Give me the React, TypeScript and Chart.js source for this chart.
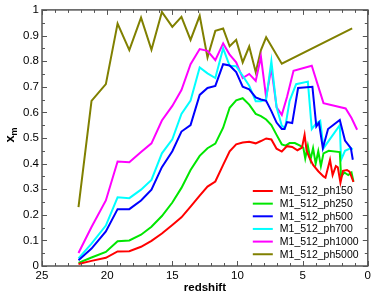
import React, { useEffect, useRef } from "react";
import { Chart, registerables } from "chart.js";

Chart.register(...registerables);

// Redshift snapshots shared by all runs (high z part)
const zEarly = [22.2, 21.2, 20.1, 19.2, 18.3, 17.4, 16.6, 15.8, 15.0, 14.3, 13.6, 12.9, 12.3, 11.7, 11.1, 10.6, 10.1, 9.6, 9.1, 8.6, 8.2, 7.8, 7.4, 7.0, 6.6];

const z150 = [...zEarly, 6.2, 5.8, 5.4, 5.05, 4.85, 4.7, 4.5, 4.2, 3.8, 3.4, 3.25, 2.9, 2.7, 2.45, 2.3, 2.1, 1.9, 1.6, 1.4, 1.1];
const v150 = [0.008, 0.02, 0.032, 0.057, 0.058, 0.075, 0.098, 0.127, 0.16, 0.19, 0.232, 0.275, 0.31, 0.33, 0.395, 0.448, 0.475, 0.482, 0.485, 0.479, 0.488, 0.498, 0.494, 0.458, 0.447, 0.468, 0.465, 0.452, 0.462, 0.512, 0.452, 0.425, 0.395, 0.37, 0.35, 0.345, 0.415, 0.355, 0.39, 0.385, 0.325, 0.372, 0.375, 0.368, 0.328];

const z250 = [...zEarly, 6.3, 6.0, 5.6, 5.2, 4.95, 4.8, 4.6, 4.4, 4.2, 4.0, 3.8, 3.6, 3.4, 3.0, 2.15, 2.05, 1.8, 1.5, 1.25, 1.1];
const v250 = [0.012, 0.033, 0.055, 0.097, 0.1, 0.122, 0.153, 0.195, 0.248, 0.305, 0.375, 0.43, 0.46, 0.478, 0.54, 0.618, 0.647, 0.655, 0.63, 0.594, 0.585, 0.572, 0.55, 0.512, 0.475, 0.47, 0.48, 0.48, 0.47, 0.462, 0.42, 0.47, 0.415, 0.46, 0.4, 0.448, 0.39, 0.44, 0.45, 0.445, 0.35, 0.365, 0.355, 0.365, 0.33];

const z500 = [...zEarly, 6.4, 6.2, 5.8, 5.35, 4.25, 3.95, 3.75, 3.45, 3.05, 2.15, 1.75, 1.3, 1.15];
const v500 = [0.022, 0.068, 0.135, 0.222, 0.222, 0.256, 0.298, 0.386, 0.448, 0.525, 0.55, 0.668, 0.695, 0.703, 0.788, 0.783, 0.757, 0.7, 0.69, 0.658, 0.65, 0.645, 0.605, 0.56, 0.535, 0.535, 0.562, 0.558, 0.695, 0.7, 0.545, 0.56, 0.46, 0.535, 0.57, 0.49, 0.46, 0.415];

const z700 = [...zEarly, 6.35, 6.0, 5.5, 4.6, 4.3, 4.0, 3.65, 3.4, 2.15, 2.05, 1.75, 1.3, 1.15];
const v700 = [0.03, 0.087, 0.158, 0.268, 0.265, 0.298, 0.336, 0.44, 0.495, 0.594, 0.646, 0.775, 0.752, 0.734, 0.85, 0.782, 0.78, 0.743, 0.704, 0.643, 0.643, 0.65, 0.8, 0.62, 0.548, 0.538, 0.645, 0.71, 0.72, 0.535, 0.555, 0.567, 0.46, 0.55, 0.415, 0.45, 0.46, 0.455];

const z1000 = [...zEarly, 6.2, 5.7, 4.3, 3.4, 1.7, 1.25, 0.82];
const v1000 = [0.051, 0.152, 0.256, 0.408, 0.405, 0.445, 0.479, 0.568, 0.625, 0.687, 0.788, 0.847, 0.84, 0.804, 0.869, 0.825, 0.795, 0.734, 0.75, 0.723, 0.817, 0.658, 0.773, 0.62, 0.59, 0.66, 0.762, 0.782, 0.636, 0.615, 0.578, 0.532];

const z5000 = [...zEarly.slice(0, 22), 6.6, 1.2];
const v5000 = [0.23, 0.645, 0.71, 0.947, 0.843, 0.97, 0.844, 0.992, 0.934, 0.973, 0.883, 0.977, 0.814, 0.918, 0.927, 0.858, 0.883, 0.795, 0.857, 0.757, 0.843, 0.893, 0.79, 0.928];

const seriesLabels = ["M1_512_ph150", "M1_512_ph250", "M1_512_ph500", "M1_512_ph700", "M1_512_ph1000", "M1_512_ph5000"];
const seriesColors = ["#ff0000", "#00e600", "#0000ff", "#00ffff", "#ff00ff", "#808000"];
const seriesZ = [z150, z250, z500, z700, z1000, z5000];
const seriesV = [v150, v250, v500, v700, v1000, v5000];

const FONT = "'Liberation Sans', Arial, Helvetica, sans-serif";

const decorPlugin = {
  id: "decor",
  afterDraw(chart: any) {
    const { ctx, chartArea } = chart;
    const { left, right, top, bottom } = chartArea;
    const xs = chart.scales.x;
    const ys = chart.scales.y;
    ctx.save();
    // ticks
    ctx.strokeStyle = "#555";
    ctx.lineWidth = 1;
    ctx.beginPath();
    for (let i = 0; i <= 25; i++) {
      const px = Math.round(xs.getPixelForValue(i)) + 0.5;
      const len = i % 5 === 0 ? 5 : 3;
      ctx.moveTo(px, bottom);
      ctx.lineTo(px, bottom - len);
      ctx.moveTo(px, top);
      ctx.lineTo(px, top + len);
    }
    for (let i = 0; i <= 20; i++) {
      const py = Math.round(ys.getPixelForValue(i * 0.05)) + 0.5;
      const len = i % 2 === 0 ? 5 : 3;
      ctx.moveTo(left, py);
      ctx.lineTo(left + len, py);
      ctx.moveTo(right, py);
      ctx.lineTo(right - len, py);
    }
    ctx.stroke();
    // frame
    ctx.strokeStyle = "#555";
    ctx.lineWidth = 1.5;
    ctx.strokeRect(left, top, right - left, bottom - top);

    // legend
    const lx0 = right - 115;
    const lx1 = right - 95;
    const tx = right - 88;
    const y0 = bottom - 75;
    const dy = 12.65;
    ctx.font = `10.5px ${FONT}`;
    ctx.textBaseline = "middle";
    ctx.textAlign = "left";
    chart.data.datasets.forEach((ds: any, i: number) => {
      const y = y0 + i * dy;
      ctx.strokeStyle = ds.borderColor;
      ctx.lineWidth = 2;
      ctx.beginPath();
      ctx.moveTo(lx0, y);
      ctx.lineTo(lx1, y);
      ctx.stroke();
      ctx.fillStyle = "#000";
      ctx.fillText(ds.label, tx, y + 0.5);
    });

    // x title
    ctx.fillStyle = "#000";
    ctx.font = `bold 11.5px ${FONT}`;
    ctx.textAlign = "center";
    ctx.textBaseline = "alphabetic";
    ctx.fillText("redshift", (left + right) / 2, 291);

    // y title: x with subscript m
    ctx.save();
    ctx.translate(13.5, 135);
    ctx.rotate(-Math.PI / 2);
    ctx.textAlign = "left";
    ctx.font = `bold 13px ${FONT}`;
    const wx = ctx.measureText("x").width;
    ctx.font = `bold 9px ${FONT}`;
    const wm = ctx.measureText("m").width;
    const start = -(wx + wm) / 2;
    ctx.font = `bold 13px ${FONT}`;
    ctx.fillText("x", start, 0);
    ctx.font = `bold 9px ${FONT}`;
    ctx.fillText("m", start + wx, 3);
    ctx.restore();

    ctx.restore();
  },
};

export default function App() {
  const ref = useRef<HTMLCanvasElement | null>(null);
  useEffect(() => {
    if (!ref.current) return;
    const datasets = seriesLabels.map((label, i) => ({
      label,
      data: seriesZ[i].map((z, j) => ({ x: z, y: seriesV[i][j] })),
      borderColor: seriesColors[i],
      backgroundColor: seriesColors[i],
      borderWidth: 2,
      pointRadius: 0,
      tension: 0,
      fill: false,
    }));
    const chart = new Chart(ref.current, {
      type: "line",
      data: { datasets },
      options: {
        animation: false,
        responsive: true,
        maintainAspectRatio: false,
        layout: { padding: { top: 9, right: 6, left: 0, bottom: 0 } },
        plugins: { legend: { display: false }, tooltip: { enabled: false } },
        scales: {
          x: {
            type: "linear",
            reverse: true,
            min: 0,
            max: 25,
            grid: { display: false, drawTicks: false },
            border: { display: false },
            ticks: {
              stepSize: 5,
              padding: 3,
              color: "#000",
              maxRotation: 0,
              font: { family: FONT, size: 11.5 },
              callback: (v: any) => String(Math.round(Number(v))),
            },
            afterFit: (s: any) => {
              s.height = 29;
            },
          },
          y: {
            type: "linear",
            min: 0,
            max: 1,
            grid: { display: false, drawTicks: false },
            border: { display: false },
            ticks: {
              stepSize: 0.1,
              padding: 3,
              color: "#000",
              font: { family: FONT, size: 11.5 },
              callback: (v: any) => String(Number(Number(v).toFixed(1))),
            },
            afterFit: (s: any) => {
              s.width = 42;
            },
          },
        },
      },
      plugins: [decorPlugin],
    });
    return () => chart.destroy();
  }, []);
  return (
    <div style={{ position: "fixed", left: 0, top: 0, width: "374px", height: "295px", background: "#fff" }}>
      <canvas ref={ref} />
    </div>
  );
}
